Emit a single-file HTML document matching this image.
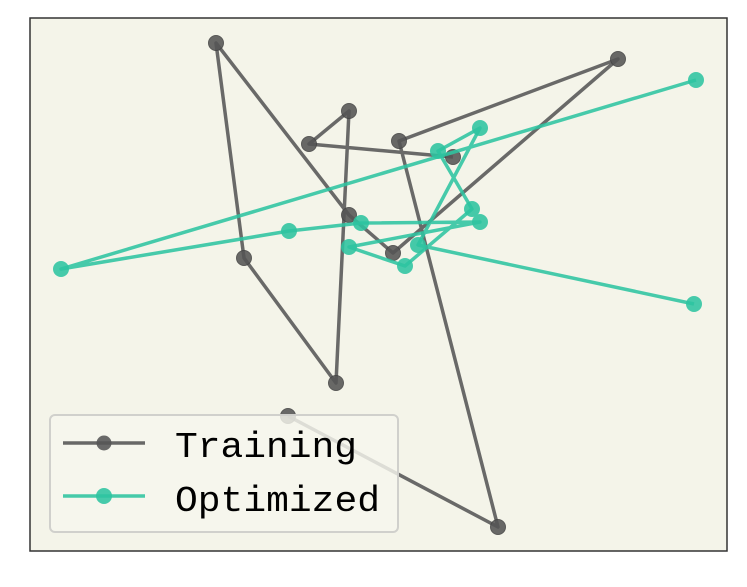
<!DOCTYPE html>
<html><head><meta charset="utf-8"><style>html,body{margin:0;padding:0;background:#fff}</style></head><body>
<svg width="747" height="582" viewBox="0 0 747 582" xmlns="http://www.w3.org/2000/svg">
<rect x="0" y="0" width="747" height="582" fill="#ffffff"/>
<rect x="30" y="18" width="697" height="533" fill="#f4f4e9" stroke="#333" stroke-width="1.5"/>
<g stroke="#555" stroke-width="3.5" fill="none" opacity="0.88" stroke-linejoin="round">
<polyline points="288,416 498,527 399,141 618,59 393,253 349,215 216,43 244,258 336,383 349,111 309,144 453,157"/>
</g>
<g fill="#555" opacity="0.88" stroke="#444" stroke-width="1">
<circle cx="288" cy="416" r="7.5"/><circle cx="498" cy="527" r="7.5"/><circle cx="399" cy="141" r="7.5"/><circle cx="618" cy="59" r="7.5"/><circle cx="393" cy="253" r="7.5"/><circle cx="349" cy="215" r="7.5"/><circle cx="216" cy="43" r="7.5"/><circle cx="244" cy="258" r="7.5"/><circle cx="336" cy="383" r="7.5"/><circle cx="349" cy="111" r="7.5"/><circle cx="309" cy="144" r="7.5"/><circle cx="453" cy="157" r="7.5"/>
</g>
<g stroke="#2ec4a0" stroke-width="3.5" fill="none" opacity="0.88" stroke-linejoin="round">
<polyline points="696,80 61,269 289,231 361,223 480,222 349,247 405,266 472,209 438,151 480,128 418,245 694,304"/>
</g>
<g fill="#2ec4a0" opacity="0.88">
<circle cx="696" cy="80" r="8"/><circle cx="61" cy="269" r="8"/><circle cx="289" cy="231" r="8"/><circle cx="361" cy="223" r="8"/><circle cx="480" cy="222" r="8"/><circle cx="349" cy="247" r="8"/><circle cx="405" cy="266" r="8"/><circle cx="472" cy="209" r="8"/><circle cx="438" cy="151" r="8"/><circle cx="480" cy="128" r="8"/><circle cx="418" cy="245" r="8"/><circle cx="694" cy="304" r="8"/>
</g>
<rect x="50" y="415" width="348" height="117" rx="5" fill="#f6f6ee" fill-opacity="0.82" stroke="#d0d0cc" stroke-width="2"/>
<line x1="63" y1="443" x2="145" y2="443" stroke="#555" stroke-width="3.5" opacity="0.88"/>
<circle cx="104" cy="443" r="7.5" fill="#555" opacity="0.88"/>
<line x1="63" y1="496" x2="145" y2="496" stroke="#2ec4a0" stroke-width="3.5" opacity="0.88"/>
<circle cx="104" cy="496" r="8" fill="#2ec4a0" opacity="0.88"/>
<text x="175" y="457" font-family="Liberation Mono, monospace" font-size="36" textLength="182" lengthAdjust="spacingAndGlyphs" fill="#000">Training</text>
<text x="175" y="511" font-family="Liberation Mono, monospace" font-size="36" textLength="205" lengthAdjust="spacingAndGlyphs" fill="#000">Optimized</text>
</svg>
</body></html>
